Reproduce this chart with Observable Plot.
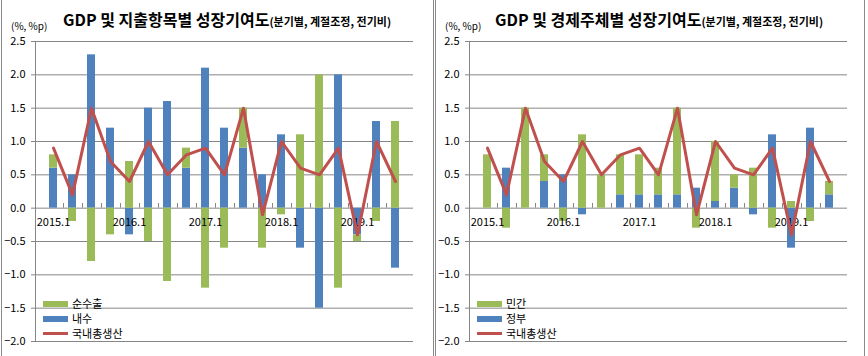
<!DOCTYPE html>
<html><head><meta charset="utf-8">
<script src="https://cdn.jsdelivr.net/npm/d3@7"></script>
<script src="https://cdn.jsdelivr.net/npm/@observablehq/plot@0.6"></script>
<style>
body{margin:0;background:#fff;font-family:"Noto Sans CJK KR","Noto Sans",sans-serif;}
#wrap{position:relative;width:868px;height:356px;overflow:hidden;}
.panel{position:absolute;top:0;width:434px;height:356px;}
.title{position:absolute;top:7px;white-space:nowrap;color:#000;}
.title .main{font-size:16px;font-weight:bold;}
.title .sub{font-size:11px;font-weight:bold;}
.unit{position:absolute;top:18px;font-size:10px;color:#000;white-space:nowrap;}
.border{position:absolute;top:0;width:1px;height:356px;background:#8a8a8a;}
.legend{position:absolute;font-size:11px;color:#000;width:120px;}
.legend .row{position:relative;height:15px;}
.legend .sw{position:absolute;left:0;width:25px;}
.legend .lab{position:absolute;left:29px;top:0;line-height:15px;white-space:nowrap;}
</style></head>
<body><div id="wrap"></div>
<script>
const quarters = ["2015.1","2015.2","2015.3","2015.4","2016.1","2016.2","2016.3","2016.4","2017.1","2017.2","2017.3","2017.4","2018.1","2018.2","2018.3","2018.4","2019.1","2019.2","2019.3"];
const quarterLabels = ["2015.1","2016.1","2017.1","2018.1","2019.1"];
const yTicks = [-2.0,-1.5,-1.0,-0.5,0.0,0.5,1.0,1.5,2.0,2.5];

// GDP growth (line, both panels)
const gdp = [0.9,0.2,1.5,0.7,0.4,1.0,0.5,0.8,0.9,0.5,1.5,-0.1,1.0,0.6,0.5,0.9,-0.4,1.0,0.4];

// Left panel: expenditure contributions
const netExports = [0.2,-0.2,-0.8,-0.4,0.7,-0.5,-1.1,0.3,-1.2,-0.6,0.6,-0.6,-0.1,1.1,2.0,-1.2,-0.1,-0.2,1.3];
const domestic   = [0.6,0.5,2.3,1.2,-0.4,1.5,1.6,0.6,2.1,1.2,0.9,0.5,1.1,-0.6,-1.5,2.0,-0.4,1.3,-0.9];

// Right panel: economic agent contributions
const privateSec = [0.8,-0.3,1.5,0.4,-0.2,1.1,0.5,0.6,0.6,0.4,1.3,-0.3,0.9,0.2,0.6,-0.3,0.1,-0.2,0.2];
const government = [0.0,0.6,0.0,0.4,0.5,-0.1,0.0,0.2,0.2,0.2,0.2,0.3,0.1,0.3,-0.1,1.1,-0.6,1.2,0.2];

const GREEN = "#9BBB59", BLUE = "#4F81BD", RED = "#C0504D", GRID = "#868686";

function makePanel(left, titleMain, titleSub, greenName, greenVals, blueName, blueVals, titleLeft) {
  const panel = document.createElement("div");
  panel.className = "panel";
  panel.style.left = left + "px";
  const rows = [];
  quarters.forEach((q, i) => {
    rows.push({q, key: blueName, value: blueVals[i]});
    rows.push({q, key: greenName, value: greenVals[i]});
  });
  const line = quarters.map((q, i) => ({q, value: gdp[i]}));
  const chart = Plot.plot({
    width: 434, height: 356,
    marginLeft: 35, marginRight: 21, marginTop: 41, marginBottom: 15,
    style: {fontFamily: '"Noto Sans CJK KR","Noto Sans",sans-serif', fontSize: "11px", color: "#000", background: "transparent"},
    x: {type: "band", domain: quarters, paddingInner: 0.6, paddingOuter: 0.3, axis: null},
    y: {domain: [-2, 2.5], axis: null},
    color: {domain: [greenName, blueName], range: [GREEN, BLUE]},
    marks: [
      Plot.ruleY(yTicks, {stroke: GRID, strokeWidth: 1}),
      Plot.axisY(yTicks, {label: null, tickFormat: d3.format(".1f"), tickSize: 4, tickPadding: 6, stroke: GRID, fontSize: 11, color: "#000"}),
      Plot.frame({anchor: "left", stroke: GRID}),
      Plot.barY(rows, {x: "q", y: "value", fill: "key", order: [blueName, greenName]}),
      Plot.ruleX(quarters.slice(0, -1), {x: d => d, y1: 0, y2: 0.07, dx: 10, stroke: GRID}),
      Plot.text(quarterLabels, {x: d => d, y: 0, dy: 14, text: d => d, fontSize: 11, fill: "#000"}),
      Plot.lineY(line, {x: "q", y: "value", stroke: RED, strokeWidth: 3, strokeLinejoin: "round"})
    ]
  });
  chart.style.position = "absolute";
  chart.style.left = "0px";
  chart.style.top = "0px";
  panel.appendChild(chart);

  const t = document.createElement("div");
  t.className = "title";
  t.style.left = titleLeft + "px";
  t.innerHTML = `<span class="main">${titleMain}</span><span class="sub">${titleSub}</span>`;
  panel.appendChild(t);

  const u = document.createElement("div");
  u.className = "unit";
  u.style.left = "11px";
  u.textContent = "(%, %p)";
  panel.appendChild(u);

  const lg = document.createElement("div");
  lg.className = "legend";
  lg.style.left = "43px";
  lg.style.top = "296px";
  lg.innerHTML =
    `<div class="row"><div class="sw" style="top:5px;height:6px;background:${GREEN}"></div><div class="lab">${greenName}</div></div>` +
    `<div class="row"><div class="sw" style="top:5px;height:6px;background:${BLUE}"></div><div class="lab">${blueName}</div></div>` +
    `<div class="row"><div class="sw" style="top:6px;height:3px;background:${RED}"></div><div class="lab">국내총생산</div></div>`;
  panel.appendChild(lg);

  document.getElementById("wrap").appendChild(panel);
}

makePanel(0, "GDP 및 지출항목별 성장기여도", "(분기별, 계절조정, 전기비)", "순수출", netExports, "내수", domestic, 63);
makePanel(434, "GDP 및 경제주체별 성장기여도", "(분기별, 계절조정, 전기비)", "민간", privateSec, "정부", government, 61);

[1, 433, 435, 864].forEach(x => {
  const b = document.createElement("div");
  b.className = "border";
  b.style.left = x + "px";
  document.getElementById("wrap").appendChild(b);
});
</script>
</body></html>
